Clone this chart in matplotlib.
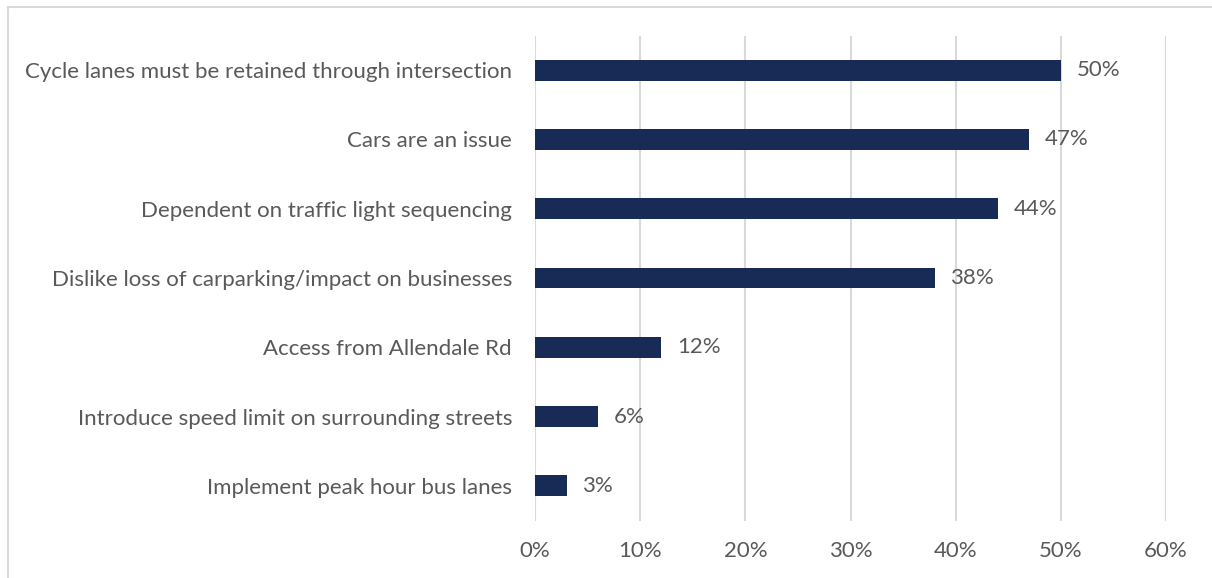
import matplotlib
matplotlib.use("Agg")
import matplotlib.pyplot as plt
from matplotlib.patches import Rectangle

categories = [
    "Cycle lanes must be retained through intersection",
    "Cars are an issue",
    "Dependent on traffic light sequencing",
    "Dislike loss of carparking/impact on businesses",
    "Access from Allendale Rd",
    "Introduce speed limit on surrounding streets",
    "Implement peak hour bus lanes",
]
values = [50, 47, 44, 38, 12, 6, 3]
xticks = [0, 10, 20, 30, 40, 50, 60]

BAR = "#172B56"
TEXT = "#595959"
GRID = "#D9D9D9"
FONT = ["Lato", "DejaVu Sans"]
FS = 16

fig = plt.figure(figsize=(12.12, 5.78), dpi=100)
ax = fig.add_axes([535 / 1212, 1 - 520.5 / 578, (1166 - 535) / 1212, (520.5 - 35.5) / 578])

# outer frame
fig.patches.append(Rectangle((8 / 1212, -0.01), 1.02, 1 - 7 / 578 + 0.01,
                             transform=fig.transFigure, fill=False,
                             edgecolor=GRID, linewidth=1.5))

y = list(range(len(categories)))
ax.barh(y, values, height=0.30, color=BAR, zorder=3)
ax.set_ylim(len(categories) - 0.5, -0.5)
ax.set_xlim(0, 60)

for yi, v in zip(y, values):
    ax.text(v + 1.5, yi, f"{v}%", va="center", ha="left",
            color=TEXT, fontsize=FS, family=FONT)

ax.set_xticks(xticks)
ax.set_xticklabels([f"{t}%" for t in xticks], color=TEXT, fontsize=FS, family=FONT)
ax.set_yticks(y)
ax.set_yticklabels(categories, color=TEXT, fontsize=FS, family=FONT)
ax.tick_params(axis="both", length=0)
ax.tick_params(axis="x", pad=15)
ax.tick_params(axis="y", pad=16.5)
ax.grid(axis="x", color=GRID, linewidth=1.5, zorder=0)
for s in ax.spines.values():
    s.set_visible(False)

fig.savefig("out.png", dpi=100)
